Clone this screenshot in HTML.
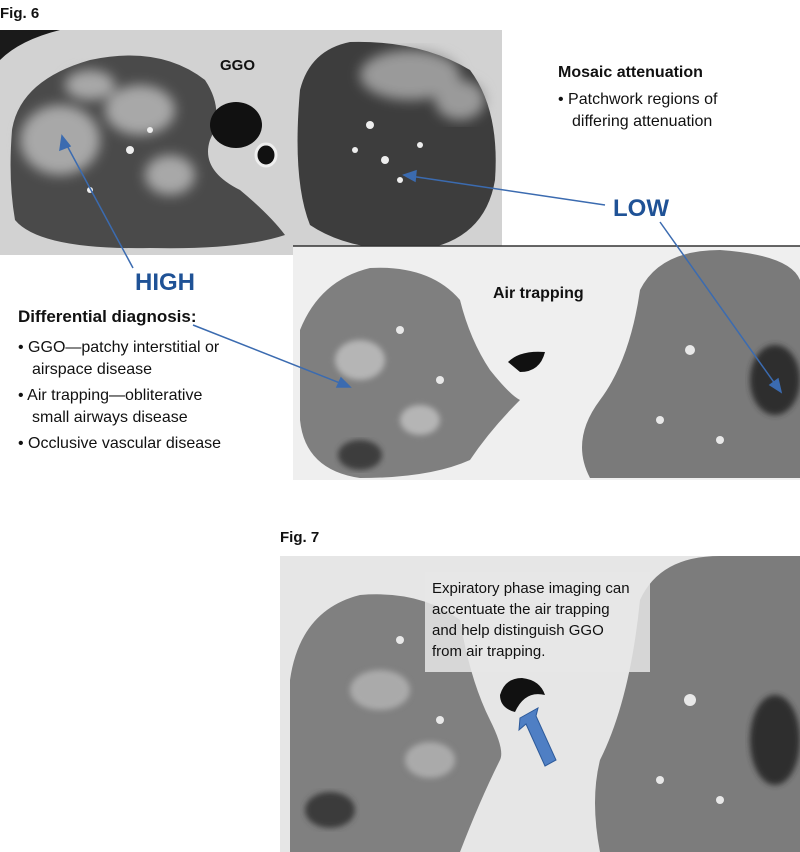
<!DOCTYPE html>
<html><head><meta charset="utf-8"><style>
html,body{margin:0;padding:0;background:#fff;}
body{width:800px;height:852px;overflow:hidden;position:relative;font-family:"Liberation Sans",sans-serif;}
svg{position:absolute;left:0;top:0;}
</style></head><body>
<svg width="800" height="852" viewBox="0 0 800 852" xmlns="http://www.w3.org/2000/svg" font-family="Liberation Sans, sans-serif">
<defs>
<filter id="b3"><feGaussianBlur stdDeviation="3"/></filter>
<filter id="b6"><feGaussianBlur stdDeviation="6"/></filter>
</defs>
<!-- Fig 6 label -->
<text x="0" y="18" font-size="15" font-weight="bold" fill="#111">Fig. 6</text>

<!-- Top CT -->
<g>
<rect x="0" y="30" width="502" height="225" fill="#d2d2d2"/>
<path d="M0 30 L60 30 Q20 40 0 60 Z" fill="#1a1a1a"/>
<path d="M12 130 Q20 80 90 60 Q160 45 205 80 Q225 110 210 140 Q200 170 240 190 Q270 215 285 235 Q240 250 150 248 Q40 250 15 220 Q8 180 12 130 Z" fill="#4a4a4a"/>
<g filter="url(#b6)" fill="#a8a8a8">
<ellipse cx="60" cy="140" rx="40" ry="35"/><ellipse cx="140" cy="110" rx="35" ry="25"/><ellipse cx="170" cy="175" rx="25" ry="20"/><ellipse cx="90" cy="85" rx="25" ry="15"/>
</g>
<path d="M300 90 Q310 50 350 42 Q420 40 470 70 Q500 110 495 180 Q485 240 420 250 Q350 252 310 225 Q292 180 300 90 Z" fill="#3d3d3d"/>
<g filter="url(#b6)" fill="#9a9a9a"><ellipse cx="410" cy="75" rx="50" ry="25"/><ellipse cx="460" cy="100" rx="25" ry="20"/></g>
<g fill="#eee"><circle cx="370" cy="125" r="4"/><circle cx="385" cy="160" r="4"/><circle cx="355" cy="150" r="3"/><circle cx="420" cy="145" r="3"/><circle cx="400" cy="180" r="3"/><circle cx="130" cy="150" r="4"/><circle cx="150" cy="130" r="3"/><circle cx="90" cy="190" r="3"/></g>
<ellipse cx="236" cy="125" rx="26" ry="23" fill="#111"/>
<ellipse cx="266" cy="155" rx="10" ry="11" fill="#111" stroke="#eee" stroke-width="3"/>
<text x="220" y="70" font-size="15" font-weight="bold" fill="#111">GGO</text>
</g>

<!-- Mosaic text -->
<text x="558" y="77" font-size="16" font-weight="bold" fill="#111">Mosaic attenuation</text>
<text x="558" y="104" font-size="16" fill="#111">• Patchwork regions of</text>
<text x="572" y="126" font-size="16" fill="#111">differing attenuation</text>

<!-- Second CT -->
<rect x="293" y="246" width="507" height="234" fill="#efefef"/>
<line x1="293" y1="246" x2="800" y2="246" stroke="#333" stroke-width="1.5"/>
<path d="M300 330 Q320 280 370 268 Q430 265 460 300 Q470 340 490 370 Q510 395 520 400 Q490 430 470 460 Q430 478 360 478 Q305 470 300 420 Z" fill="#7f7f7f"/>
<g filter="url(#b3)" fill="#b5b5b5"><ellipse cx="360" cy="360" rx="25" ry="20"/><ellipse cx="420" cy="420" rx="20" ry="15"/></g>
<ellipse cx="360" cy="455" rx="22" ry="15" fill="#3c3c3c" filter="url(#b3)"/>
<path d="M640 290 Q660 250 720 250 Q790 255 800 280 L800 478 L590 478 Q570 440 600 400 Q630 360 640 290 Z" fill="#7a7a7a"/>
<ellipse cx="775" cy="380" rx="25" ry="35" fill="#2d2d2d" filter="url(#b3)"/>
<g fill="#e8e8e8"><circle cx="690" cy="350" r="5"/><circle cx="660" cy="420" r="4"/><circle cx="720" cy="440" r="4"/><circle cx="400" cy="330" r="4"/><circle cx="440" cy="380" r="4"/></g>
<path d="M508 362 Q520 350 545 352 Q540 372 520 372 Z" fill="#111"/>
<text x="493" y="298" font-size="16" font-weight="bold" fill="#111">Air trapping</text>

<!-- Arrows -->
<g stroke="#3b6bb0" stroke-width="1.5" fill="#3b6bb0">
<line x1="133" y1="268" x2="64" y2="140"/><path d="M62 136 L60 150 L70 146 Z"/>
<line x1="193" y1="325" x2="345" y2="385"/><path d="M350 387 L337 387 L341 378 Z"/>
<line x1="605" y1="205" x2="410" y2="176"/><path d="M404 175 L416 171 L415 181 Z"/>
<line x1="660" y1="222" x2="778" y2="388"/><path d="M781 392 L770 385 L778 379 Z"/>
</g>
<text x="613" y="216" font-size="24" font-weight="bold" fill="#1f5296">LOW</text>
<text x="135" y="290" font-size="24" font-weight="bold" fill="#1f5296">HIGH</text>

<!-- Differential -->
<text x="18" y="322" font-size="17" font-weight="bold" fill="#111">Differential diagnosis:</text>
<g font-size="16" fill="#111">
<text x="18" y="352">• GGO—patchy interstitial or</text>
<text x="32" y="374">airspace disease</text>
<text x="18" y="400">• Air trapping—obliterative</text>
<text x="32" y="422">small airways disease</text>
<text x="18" y="448">• Occlusive vascular disease</text>
</g>

<!-- Fig 7 -->
<text x="280" y="542" font-size="15" font-weight="bold" fill="#111">Fig. 7</text>
<rect x="280" y="556" width="520" height="296" fill="#e6e6e6"/>
<path d="M290 680 Q300 610 360 595 Q420 590 460 620 Q470 680 490 720 Q505 750 500 760 Q480 800 460 852 L290 852 Z" fill="#808080"/>
<ellipse cx="330" cy="810" rx="25" ry="18" fill="#3a3a3a" filter="url(#b3)"/>
<g filter="url(#b3)" fill="#aaaaaa"><ellipse cx="380" cy="690" rx="30" ry="20"/><ellipse cx="430" cy="760" rx="25" ry="18"/></g>
<path d="M640 600 Q660 556 720 556 L800 556 L800 852 L600 852 Q590 800 600 760 Q630 700 640 600 Z" fill="#7c7c7c"/>
<ellipse cx="775" cy="740" rx="25" ry="45" fill="#2d2d2d" filter="url(#b3)"/>
<g fill="#e8e8e8"><circle cx="690" cy="700" r="6"/><circle cx="660" cy="780" r="4"/><circle cx="720" cy="800" r="4"/><circle cx="400" cy="640" r="4"/><circle cx="440" cy="720" r="4"/></g>
<path d="M500 695 Q505 678 522 678 Q540 680 545 695 Q525 690 515 712 Q500 708 500 695 Z" fill="#111"/>
<rect x="425" y="572" width="225" height="100" fill="#e6e6e6" opacity="0.85"/>
<g font-size="15" fill="#111">
<text x="432" y="593">Expiratory phase imaging can</text>
<text x="432" y="614">accentuate the air trapping</text>
<text x="432" y="635">and help distinguish GGO</text>
<text x="432" y="656">from air trapping.</text>
</g>
<path d="M520 718 L538 708 L536 716 L556 760 L545 766 L526 724 L519 730 Z" fill="#4f7fc4" stroke="#2d5a9a" stroke-width="1"/>
</svg>
</body></html>
